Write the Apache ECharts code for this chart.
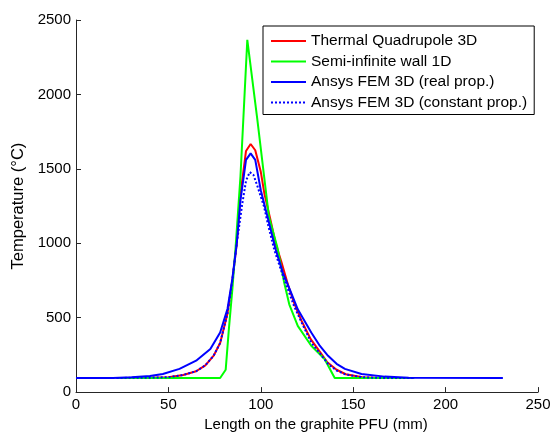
<!DOCTYPE html>
<html>
<head>
<meta charset="utf-8">
<script src="https://cdn.jsdelivr.net/npm/echarts@6/dist/echarts.min.js"></script>
<style>
html,body{margin:0;padding:0;background:#fff;}
#chart{width:556px;height:437px;}
</style>
</head>
<body>
<div id="chart"></div>
<script>
const seriesNames = ['Thermal Quadrupole 3D', 'Semi-infinite wall 1D', 'Ansys FEM 3D (real prop.)', 'Ansys FEM 3D (constant prop.)'];

const quadX = [22, 40, 50, 58, 65, 70, 74.5, 78, 82, 84.6, 87, 89, 92, 94.5, 97, 100, 102, 105, 108, 111, 115, 118, 122, 127, 132, 136, 141, 146, 155, 165, 183];
const quadY = [95, 97, 100, 115, 140, 180, 245, 330, 530, 750, 1000, 1330, 1620, 1667, 1625, 1480, 1330, 1170, 1000, 880, 710, 600, 480, 356, 270, 200, 150, 120, 100, 95, 95];

const semiX = [22, 60, 78, 81, 82.7, 84.6, 86.4, 89, 92.7, 98, 104.4, 109, 112.7, 115.4, 120, 127.3, 134.5, 140, 160, 183];
const semiY = [95, 95, 95, 150, 420, 690, 980, 1450, 2367, 1844, 1178, 970, 733, 590, 445, 311, 222, 95, 95, 95];

const realX = [0, 20, 30, 40, 47, 56, 65, 72.7, 78, 82, 84.6, 87, 89, 92, 94.5, 97, 100, 104, 108, 112, 116, 120, 127.3, 132, 136.4, 141, 145.5, 154.5, 167, 180, 231];
const realY = [95, 95, 100, 108, 122, 156, 211, 289, 400, 560, 760, 1000, 1290, 1560, 1604, 1560, 1356, 1160, 960, 800, 680, 556, 400, 310, 244, 190, 156, 122, 104, 97, 95];

const constX = [22, 40, 50, 58, 65, 70, 74.5, 78, 82, 84.6, 87, 90, 92, 94, 96, 98, 101.8, 104, 107.3, 112, 118, 122, 127.3, 132, 136.4, 141, 146, 155, 165, 183];
const constY = [95, 97, 100, 115, 140, 180, 245, 330, 530, 750, 1000, 1267, 1420, 1478, 1460, 1390, 1244, 1120, 956, 780, 578, 470, 333, 260, 189, 145, 118, 100, 95, 95];

const xTicks = [0, 50, 100, 150, 200, 250];
const yTicks = [0, 500, 1000, 1500, 2000, 2500];

function pairs(xs, ys) { return xs.map((x, i) => [x, ys[i]]); }

const FONT = 'Liberation Sans, Arial, sans-serif';
const chart = echarts.init(document.getElementById('chart'), null, {renderer: 'canvas'});
chart.setOption({
  backgroundColor: '#ffffff',
  animation: false,
  grid: {left: 76, right: 18, top: 20, bottom: 40, containLabel: false},
  legend: {
    orient: 'vertical',
    left: 263, top: 26,
    padding: [7, 7, 4, 7],
    itemGap: 4.5,
    itemWidth: 35, itemHeight: 14,
    itemStyle: {opacity: 0, borderWidth: 0},
    backgroundColor: '#fff',
    borderColor: '#000', borderWidth: 1,
    textStyle: {fontFamily: FONT, fontSize: 15.5, lineHeight: 14, color: '#000'},
    data: seriesNames
  },
  xAxis: {
    type: 'value', min: 0, max: 250, interval: 50,
    name: 'Length on the graphite PFU (mm)', nameLocation: 'middle', nameGap: 17,
    nameTextStyle: {fontFamily: FONT, fontSize: 15, color: '#000', padding: [0, 0, 0, 18]},
    axisLine: {show: true, lineStyle: {color: '#262626', width: 1}},
    axisTick: {show: true, inside: true, length: 5, lineStyle: {color: '#262626'}},
    axisLabel: {fontFamily: FONT, fontSize: 15, color: '#000', margin: 5,
      formatter: v => xTicks.includes(v) ? String(v) : ''},
    splitLine: {show: false}
  },
  yAxis: {
    type: 'value', min: 0, max: 2500, interval: 500,
    name: 'Temperature (°C)', nameLocation: 'middle', nameGap: 46,
    nameTextStyle: {fontFamily: FONT, fontSize: 16.5, color: '#000'},
    axisLine: {show: true, lineStyle: {color: '#262626', width: 1}},
    axisTick: {show: true, inside: true, length: 5, lineStyle: {color: '#262626'}},
    axisLabel: {fontFamily: FONT, fontSize: 15, color: '#000', margin: 5,
      formatter: v => yTicks.includes(v) ? String(v) : ''},
    splitLine: {show: false}
  },
  series: [
    {name: seriesNames[0], type: 'line', data: pairs(quadX, quadY), symbol: 'none',
      lineStyle: {color: '#ff0000', width: 2}, itemStyle: {color: '#ff0000'}},
    {name: seriesNames[1], type: 'line', data: pairs(semiX, semiY), symbol: 'none',
      lineStyle: {color: '#00ff00', width: 2}, itemStyle: {color: '#00ff00'}},
    {name: seriesNames[2], type: 'line', data: pairs(realX, realY), symbol: 'none',
      lineStyle: {color: '#0000ff', width: 2}, itemStyle: {color: '#0000ff'}},
    {name: seriesNames[3], type: 'line', data: pairs(constX, constY), symbol: 'none',
      lineStyle: {color: '#0000ff', width: 2, type: [2, 2]}, itemStyle: {color: '#0000ff'}}
  ]
});
</script>
</body>
</html>
